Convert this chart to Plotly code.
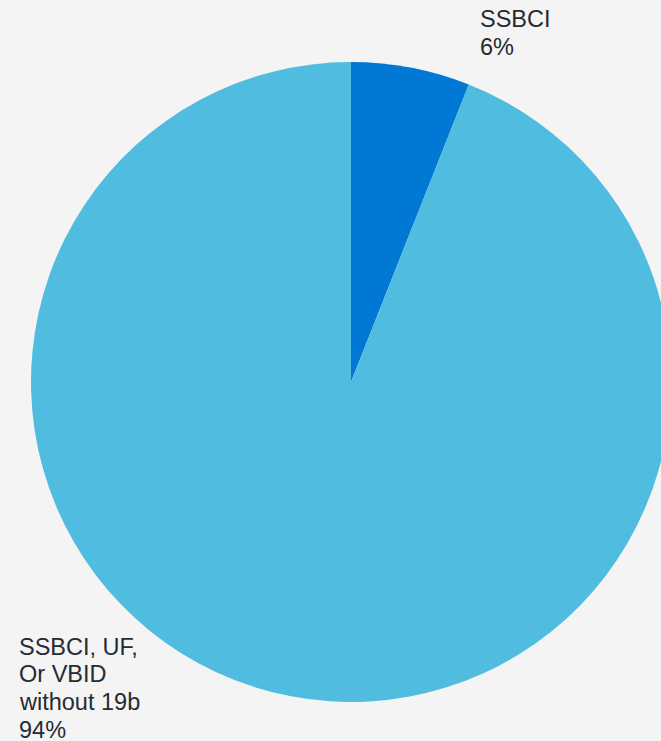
import plotly.graph_objects as go

# Share of funding by program category
labels = ["SSBCI", "SSBCI, UF, Or VBID without 19b"]
values = [6, 94]
colors = ["#0078d4", "#50bce0"]
# How each category name is broken over lines in its callout
label_lines = [["SSBCI"], ["SSBCI, UF,", "Or VBID", "without 19b"]]

W, H = 672, 741
BG = "#f4f4f4"
TEXT = "#262b33"
FONT = "Arial, Liberation Sans, sans-serif"
FS = 23.5
LINE = 27.8

fig = go.Figure(
    go.Pie(
        labels=labels,
        values=values,
        sort=False,
        direction="clockwise",
        rotation=0,
        marker=dict(colors=colors, line=dict(width=0)),
        textinfo="none",
        hoverinfo="label+percent",
        showlegend=False,
        domain=dict(x=[31 / W, 671 / W], y=[1 - 702 / H, 1 - 62 / H]),
    )
)

# Callout positions (pixel x of left edge, pixel y of first line centre)
callouts = [(478, 19.5), (17, 646.5)]
total = sum(values)
annotations = []
for (x_px, y_px), lines, v in zip(callouts, label_lines, values):
    pct = f"{round(100 * v / total)}%"
    for i, t in enumerate(lines + [pct]):
        annotations.append(
            dict(
                x=x_px / W,
                y=1 - (y_px + i * LINE) / H,
                xref="paper",
                yref="paper",
                xanchor="left",
                yanchor="middle",
                text=t,
                showarrow=False,
                font=dict(family=FONT, size=FS, color=TEXT),
            )
        )

fig.update_layout(
    width=W,
    height=H,
    margin=dict(l=0, r=0, t=0, b=0),
    paper_bgcolor=BG,
    plot_bgcolor=BG,
    annotations=annotations,
)

fig.write_html(
    "out.html",
    config={"displayModeBar": False},
    post_script="document.body.style.margin='0';document.body.style.overflow='hidden';document.documentElement.style.overflow='hidden';",
)
